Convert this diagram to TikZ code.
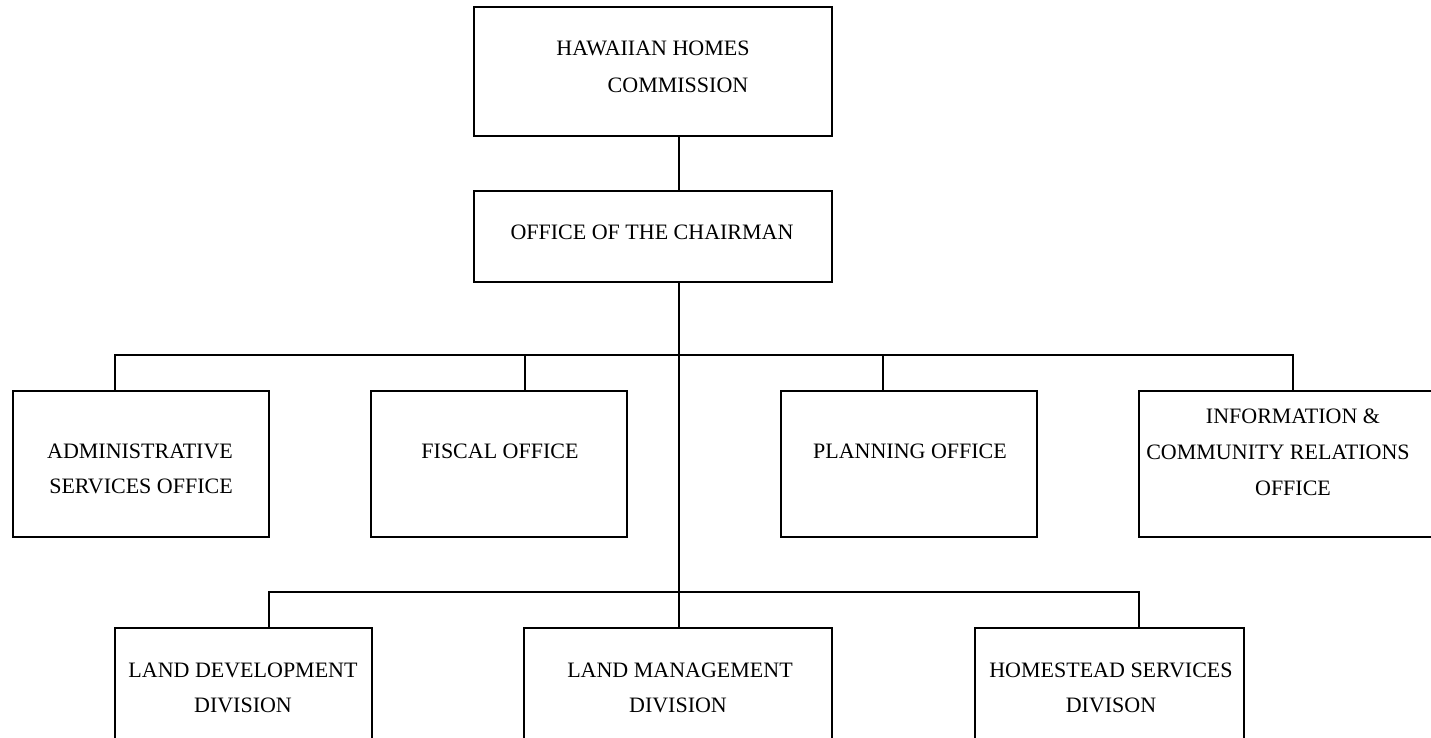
\documentclass[tikz,border=0pt]{standalone}
\usepackage{fontspec}
\setmainfont{Liberation Serif}
\begin{document}
\begin{tikzpicture}[x=1pt,y=-1pt,
  box/.style={draw=black,line width=2pt,inner sep=0pt,rectangle},
  conn/.style={draw=black,line width=2pt},
  lbl/.style={anchor=base,inner sep=0pt,font=\fontsize{22}{26}\selectfont}]
\useasboundingbox (0,0) rectangle (1431,737);
\clip (0,0) rectangle (1431,737);
\fill[white] (0,0) rectangle (1431,737);
% boxes
\node[box,minimum width=358pt,minimum height=129pt] (hhc) at (653,71.5) {};
\node[box,minimum width=358pt,minimum height=91pt] (chair) at (653,236.5) {};
\node[box,minimum width=256pt,minimum height=146pt] (admin) at (141,464) {};
\node[box,minimum width=256pt,minimum height=146pt] (fiscal) at (499,464) {};
\node[box,minimum width=256pt,minimum height=146pt] (plan) at (909,464) {};
\node[box,minimum width=321pt,minimum height=146pt] (info) at (1299.5,464) {};
\node[box,minimum width=257pt,minimum height=142pt] (landdev) at (243.5,699) {};
\node[box,minimum width=308pt,minimum height=142pt] (landmgmt) at (678,699) {};
\node[box,minimum width=269pt,minimum height=142pt] (home) at (1109.5,699) {};
% texts
\node[lbl] (t1) at (653,55) {HAWAIIAN HOMES};
\node[lbl] (t2) at (678,92) {COMMISSION};
\node[lbl] (t3) at (652,239) {OFFICE OF THE CHAIRMAN};
\node[lbl] (t4) at (140,458) {ADMINISTRATIVE};
\node[lbl] (t5) at (141,493) {SERVICES OFFICE};
\node[lbl] (t6) at (500,458) {FISCAL OFFICE};
\node[lbl] (t7) at (910,458) {PLANNING OFFICE};
\node[lbl] (t8) at (1293,423) {INFORMATION \&};
\node[lbl] (t9) at (1278,459) {COMMUNITY RELATIONS};
\node[lbl] (t10) at (1293,495) {OFFICE};
\node[lbl] (t11) at (243,677) {LAND DEVELOPMENT};
\node[lbl] (t12) at (243,712) {DIVISION};
\node[lbl] (t13) at (680,677) {LAND MANAGEMENT};
\node[lbl] (t14) at (678,712) {DIVISION};
\node[lbl] (t15) at (1111,677) {HOMESTEAD SERVICES};
\node[lbl] (t16) at (1111,712) {DIVISON};
% junction coordinates
\coordinate (bus1) at (679,355);
\coordinate (bus2) at (679,592);
% connectors
\draw[conn] (hhc.south -| bus1) -- (chair.north -| bus1);
\draw[conn] (chair.south -| bus1) -- (landmgmt.north -| bus1);
\draw[conn] (admin.north -| 115,0) |- (bus1);
\draw[conn] (fiscal.north -| 525,0) |- (bus1);
\draw[conn] (plan.north -| 883,0) |- (bus1);
\draw[conn] (info.north -| 1293,0) |- (bus1);
\draw[conn] (landdev.north -| 269,0) |- (bus2);
\draw[conn] (home.north -| 1139,0) |- (bus2);
\end{tikzpicture}
\end{document}
